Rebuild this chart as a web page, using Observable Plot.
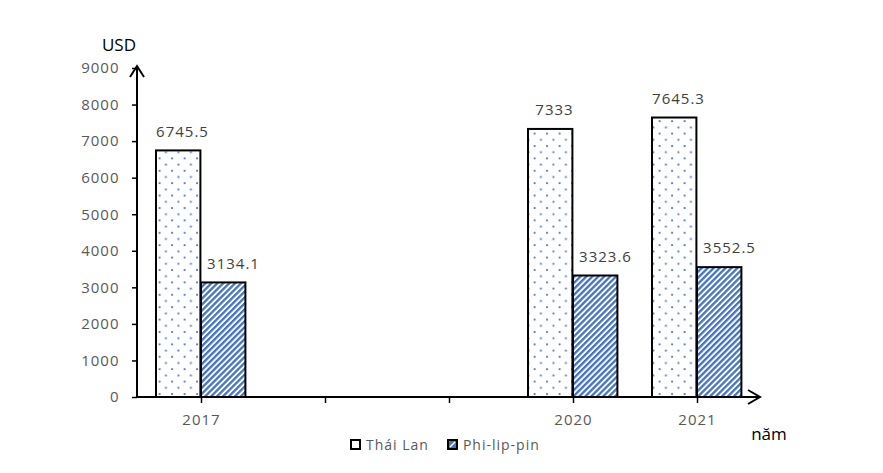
<!DOCTYPE html>
<html>
<head>
<meta charset="utf-8">
<script src="https://cdn.jsdelivr.net/npm/d3@7"></script>
<script src="https://cdn.jsdelivr.net/npm/@observablehq/plot@0.6"></script>
<style>
  html, body { margin: 0; padding: 0; background: #fff; }
  #wrap { position: relative; width: 883px; height: 473px; font-family: "Open Sans", sans-serif; }
  #legend { position: absolute; top: 435px; left: 350px; font-size: 14px; color: #595959; display: flex; align-items: center; letter-spacing: 1px; }
  #legend .item { display: flex; align-items: center; margin-right: 18px; }
  #legend svg { margin-right: 4px; }
  .val text, .ax text { letter-spacing: 1px; }
</style>
</head>
<body>
<div id="wrap"></div>
<script>
const years = ["2017", "2018", "2019", "2020", "2021"];
const dataYears = ["2017", "2020", "2021"];
const thaiLan = [6745.5, 7333, 7645.3];
const philippines = [3134.1, 3323.6, 3552.5];
const seriesNames = ["Thái Lan", "Phi-lip-pin"];
const yTicks = [0, 1000, 2000, 3000, 4000, 5000, 6000, 7000, 8000, 9000];
const yLabel = "USD";
const xLabel = "năm";

const thaiRows = dataYears.map((y, i) => ({year: y, value: thaiLan[i], series: seriesNames[0]}));
const phRows = dataYears.map((y, i) => ({year: y, value: philippines[i], series: seriesNames[1]}));

const W = 883, H = 473;
const fontFam = "'Open Sans', sans-serif";

const chart = Plot.plot({
  width: W,
  height: H,
  marginLeft: 137,
  marginRight: 123,
  marginTop: 68,
  marginBottom: 76,
  style: {fontFamily: fontFam, fontSize: "15px", overflow: "visible", background: "white"},
  x: {domain: years, padding: 0, axis: null},
  y: {domain: [0, 9000], axis: null},
  marks: [
    Plot.barY(thaiRows, {x: "year", y: "value", fill: "url(#dotsPat)", stroke: "black", strokeWidth: 2, insetLeft: 17, insetRight: 62.6}),
    Plot.barY(phRows, {x: "year", y: "value", fill: "url(#stripePat)", stroke: "black", strokeWidth: 2, insetLeft: 62, insetRight: 17.6}),
    Plot.text(thaiRows, {x: "year", y: "value", text: d => String(d.value), dx: -19, dy: -19, lineAnchor: "middle", fill: "#404040", fontSize: 15, className: "val"}),
    Plot.text(phRows, {x: "year", y: "value", text: d => String(d.value), dx: 32, dy: -19, lineAnchor: "middle", fill: "#404040", fontSize: 15, className: "val"}),
    Plot.axisY({ticks: yTicks, label: null, tickSize: 5, tickPadding: 13, fill: "#595959", stroke: "black", strokeWidth: 1.5, fontSize: 15, className: "ax", tickFormat: d => String(d)}),
    Plot.axisX({label: null, tickSize: 6, tickPadding: 11, fill: "#595959", stroke: "black", strokeWidth: 1.5, fontSize: 15, className: "ax", tickFormat: d => dataYears.includes(d) ? d : ""})
  ]
});

document.getElementById("wrap").appendChild(chart);

// patterns and axis lines with arrows, positioned from the scales
const svg = d3.select(chart);
const defs = svg.insert("defs", ":first-child");
const blue = "#4472C4";
const dots = defs.append("pattern").attr("id", "dotsPat").attr("patternUnits", "userSpaceOnUse")
  .attr("width", 12.5).attr("height", 12.4);
dots.append("rect").attr("width", 12.5).attr("height", 12.4).attr("fill", "white");
dots.append("rect").attr("x", 2.5).attr("y", 2.5).attr("width", 1.8).attr("height", 1.8).attr("fill", blue);
dots.append("rect").attr("x", 8.7).attr("y", 8.7).attr("width", 1.8).attr("height", 1.8).attr("fill", blue);
const stripes = defs.append("pattern").attr("id", "stripePat").attr("patternUnits", "userSpaceOnUse")
  .attr("width", 4.2).attr("height", 4.2).attr("patternTransform", "rotate(45)");
stripes.append("rect").attr("width", 4.2).attr("height", 4.2).attr("fill", "white");
stripes.append("rect").attr("width", 2.3).attr("height", 4.2).attr("fill", blue);

const xs = chart.scale("x"), ys = chart.scale("y");
const x0 = xs.range[0], x1 = xs.range[1];
const y0 = ys.apply(0), yTop = ys.apply(9000);
const g = svg.append("g").attr("fill", "none").attr("stroke", "black").attr("stroke-width", 2);
// y axis + arrow
g.append("line").attr("x1", x0).attr("x2", x0).attr("y1", y0).attr("y2", yTop - 2);
g.append("path").attr("d", `M${x0 - 7},${yTop + 9}L${x0},${yTop - 2}L${x0 + 7},${yTop + 9}`);
// x axis + arrow
g.append("line").attr("x1", x0).attr("x2", x1).attr("y1", y0).attr("y2", y0);
g.append("path").attr("d", `M${x1 - 12},${y0 - 7}L${x1},${y0}L${x1 - 12},${y0 + 7}`);
// axis titles
svg.append("text").attr("x", x0 - 18).attr("y", yTop - 17).attr("text-anchor", "middle")
  .attr("font-size", 17).attr("fill", "black").attr("font-family", fontFam).text(yLabel);
svg.append("text").attr("x", x1 + 9).attr("y", y0 + 43).attr("text-anchor", "middle")
  .attr("font-size", 17).attr("fill", "black").attr("font-family", fontFam).text(xLabel);

// legend
const legend = d3.select("#wrap").append("div").attr("id", "legend");
seriesNames.forEach((name, i) => {
  const item = legend.append("div").attr("class", "item");
  const s = item.append("svg").attr("width", 12).attr("height", 12);
  s.append("rect").attr("x", 1).attr("y", 1).attr("width", 9).attr("height", 9)
    .attr("fill", i === 0 ? "white" : blue).attr("stroke", "black").attr("stroke-width", 2);
  if (i === 1) s.append("line").attr("x1", 3).attr("y1", 8).attr("x2", 8).attr("y2", 3).attr("stroke", "white").attr("stroke-width", 1.5);
  item.append("span").text(name);
});
</script>
</body>
</html>
